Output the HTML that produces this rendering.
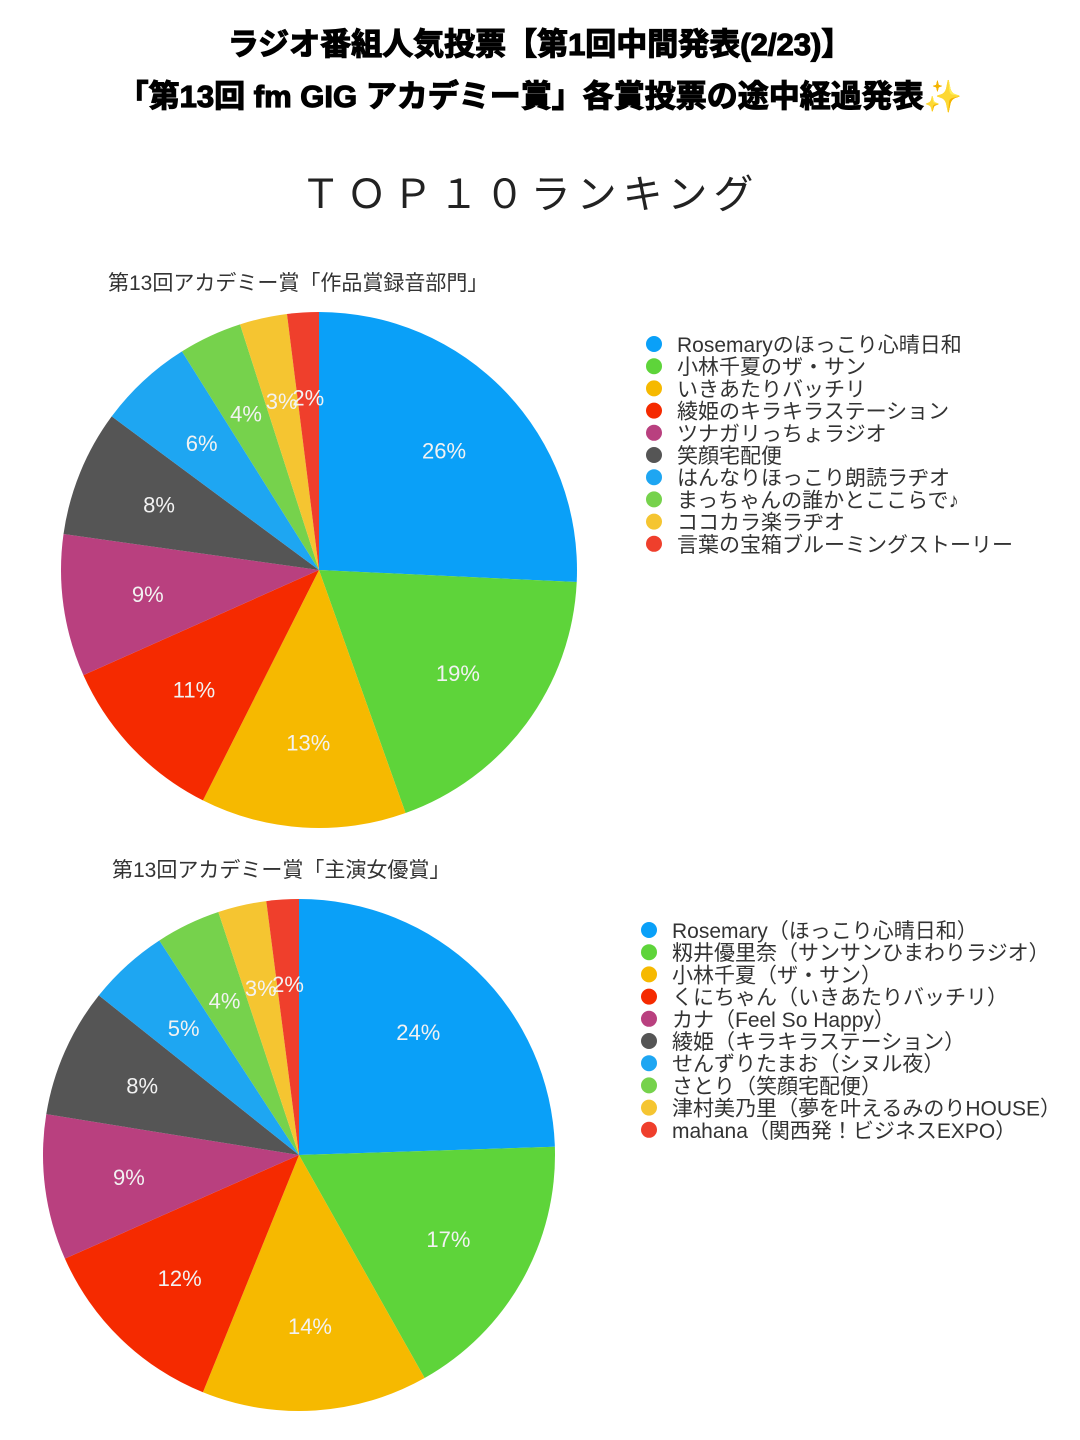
<!DOCTYPE html>
<html><head><meta charset="utf-8"><style>
body{margin:0;background:#fff;width:1080px;height:1440px;overflow:hidden;font-family:"Liberation Sans","Noto Sans CJK JP",sans-serif}
svg{position:absolute;left:0;top:0}
</style></head><body>
<svg id="chart" width="1080" height="1440" viewBox="0 0 1080 1440" xmlns="http://www.w3.org/2000/svg">
<text x="540" y="55" text-anchor="middle" font-size="31" font-weight="bold" fill="#000" font-family="Liberation Sans, Noto Sans CJK JP, sans-serif" stroke="#000" stroke-width="1.2">ラジオ番組人気投票【第1回中間発表(2/23)】</text>
<text x="540" y="107" text-anchor="middle" font-size="31" font-weight="bold" fill="#000" font-family="Liberation Sans, Noto Sans CJK JP, sans-serif" stroke="#000" stroke-width="1.2">「第13回 fm GIG アカデミー賞」各賞投票の途中経過発表<tspan fill="#f5c030" stroke="#f5c030">✨</tspan></text>
<text x="530" y="208" text-anchor="middle" font-size="40" fill="#222" letter-spacing="6" font-family="Liberation Sans, Noto Sans CJK JP, sans-serif">ＴＯＰ１０ランキング</text>
<text x="108" y="290" font-size="21" fill="#333" font-family="Liberation Sans, Noto Sans CJK JP, sans-serif">第13回アカデミー賞「作品賞録音部門」</text>
<text x="112" y="877" font-size="21" fill="#333" font-family="Liberation Sans, Noto Sans CJK JP, sans-serif">第13回アカデミー賞「主演女優賞」</text>
<g id="pie1"></g><g id="pie2"></g>
</svg>
<script>
const colors=["#0aa0f8","#5ed43a","#f6b900","#f52a00","#b9407f","#555555","#1ea6f2","#76d24c","#f5c531","#ef3f2c"];
const cats1=["Rosemaryのほっこり心晴日和","小林千夏のザ・サン","いきあたりバッチリ","綾姫のキラキラステーション","ツナガリっちょラジオ","笑顔宅配便","はんなりほっこり朗読ラヂオ","まっちゃんの誰かとここらで♪","ココカラ楽ラヂオ","言葉の宝箱ブルーミングストーリー"];
const vals1=[26,19,13,11,9,8,6,4,3,2];
const cats2=["Rosemary（ほっこり心晴日和）","籾井優里奈（サンサンひまわりラジオ）","小林千夏（ザ・サン）","くにちゃん（いきあたりバッチリ）","カナ（Feel So Happy）","綾姫（キラキラステーション）","せんずりたまお（シヌル夜）","さとり（笑顔宅配便）","津村美乃里（夢を叶えるみのりHOUSE）","mahana（関西発！ビジネスEXPO）"];
const vals2=[24,17,14,12,9,8,5,4,3,2];
const NS="http://www.w3.org/2000/svg";
function drawPie(gid,cats,vals,cx,cy,r,lx,ly,pfx){
  const g=document.getElementById(gid);
  const total=vals.reduce((a,b)=>a+b,0);
  let a0=0;
  vals.forEach((v,i)=>{
    const a1=a0+v/total*2*Math.PI;
    const x0=cx+r*Math.sin(a0),y0=cy-r*Math.cos(a0),x1=cx+r*Math.sin(a1),y1=cy-r*Math.cos(a1);
    const p=document.createElementNS(NS,"path");
    p.setAttribute("d",`M${cx},${cy}L${x0},${y0}A${r},${r} 0 ${(a1-a0)>Math.PI?1:0} 1 ${x1},${y1}Z`);
    p.setAttribute("fill",colors[i]);
    
    
    g.appendChild(p);
    const am=(a0+a1)/2,lr=r*0.67;
    const t=document.createElementNS(NS,"text");
    t.setAttribute("x",cx+lr*Math.sin(am));t.setAttribute("y",cy-lr*Math.cos(am)+8);
    t.setAttribute("text-anchor","middle");t.setAttribute("font-size","22");t.setAttribute("fill","#f2f2f2");
    t.textContent=v+"%";
    
    
    g.appendChild(t);
    a0=a1;
  });
  cats.forEach((c,i)=>{
    const y=ly+i*22.2;
    const d=document.createElementNS(NS,"circle");
    d.setAttribute("cx",lx);d.setAttribute("cy",y);d.setAttribute("r",8);d.setAttribute("fill",colors[i]);
    
    
    g.appendChild(d);
    const t=document.createElementNS(NS,"text");
    t.setAttribute("x",lx+23);t.setAttribute("y",y+8);t.setAttribute("font-size","21");t.setAttribute("fill","#333");
    t.setAttribute("font-family","Liberation Sans, Noto Sans CJK JP, sans-serif");
    t.textContent=c;
    
    
    g.appendChild(t);
  });
}
drawPie("pie1",cats1,vals1,319,570,258,654,344,"chart1");
drawPie("pie2",cats2,vals2,299,1155,256,649,930,"chart2");
</script>
</body></html>
